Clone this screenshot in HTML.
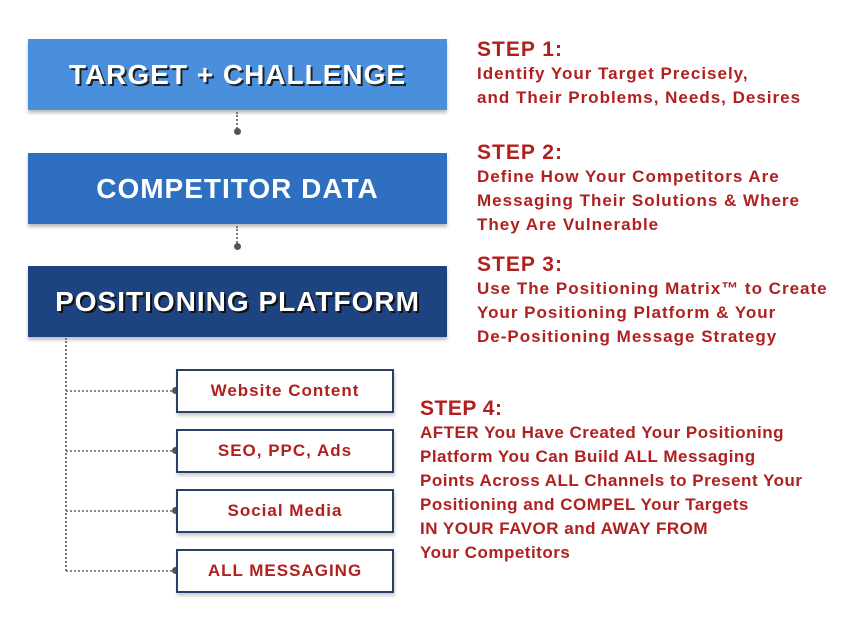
<!DOCTYPE html>
<html><head><style>
body{margin:0;width:850px;height:639px;background:#fff;position:relative;overflow:hidden;font-family:"Liberation Sans",sans-serif;}
.big{position:absolute;left:28px;width:419px;height:71px;color:#fff;font-weight:bold;font-size:28px;display:flex;align-items:center;justify-content:center;box-shadow:0 3px 3px rgba(0,0,0,.25);letter-spacing:1px}
.sm{position:absolute;left:176px;width:214px;height:40px;border:2px solid #2a3f66;box-sizing:content-box;color:#b0201f;font-weight:bold;font-size:17px;letter-spacing:1px;display:flex;align-items:center;justify-content:center;box-shadow:1px 3px 3px rgba(0,0,0,.2);background:#fff}
.t{position:absolute;color:#b0201f;font-weight:bold;font-size:17px;letter-spacing:1px;line-height:24px;white-space:nowrap}
.t b{font-size:21px;display:block;line-height:24px}
.vd{position:absolute;border-left:2px dotted #777;width:0}
.hd{position:absolute;border-top:2px dotted #888;height:0}
.dot{position:absolute;width:7px;height:7px;border-radius:50%;background:#555}
</style></head><body>
<div class="big" style="top:39px;background:#4a8fdc;text-shadow:2px 2px 0 #222">TARGET + CHALLENGE</div>
<div class="big" style="top:153px;background:#2e6fc0">COMPETITOR DATA</div>
<div class="big" style="top:266px;background:#1d4480;text-shadow:2px 2px 0 #111">POSITIONING PLATFORM</div>
<div class="vd" style="left:236px;top:112px;height:17px"></div><div class="dot" style="left:234px;top:128px"></div>
<div class="vd" style="left:236px;top:226px;height:17px"></div><div class="dot" style="left:234px;top:243px"></div>
<div class="vd" style="left:65px;top:338px;height:233px"></div>
<div class="hd" style="left:66px;top:390px;width:110px"></div><div class="dot" style="left:172px;top:387px"></div>
<div class="hd" style="left:66px;top:450px;width:110px"></div><div class="dot" style="left:172px;top:447px"></div>
<div class="hd" style="left:66px;top:510px;width:110px"></div><div class="dot" style="left:172px;top:507px"></div>
<div class="hd" style="left:66px;top:570px;width:110px"></div><div class="dot" style="left:172px;top:567px"></div>
<div class="sm" style="top:369px">Website Content</div>
<div class="sm" style="top:429px">SEO, PPC, Ads</div>
<div class="sm" style="top:489px">Social Media</div>
<div class="sm" style="top:549px">ALL MESSAGING</div>
<div class="t" style="left:477px;top:38px"><b>STEP 1:</b>Identify Your Target Precisely,<br>and Their Problems, Needs, Desires</div>
<div class="t" style="left:477px;top:141px"><b>STEP 2:</b>Define How Your Competitors Are<br>Messaging Their Solutions &amp; Where<br>They Are Vulnerable</div>
<div class="t" style="left:477px;top:253px"><b>STEP 3:</b>Use The Positioning Matrix™ to Create<br>Your Positioning Platform &amp; Your<br>De-Positioning Message Strategy</div>
<div class="t" style="left:420px;top:397px;letter-spacing:.5px"><b>STEP 4:</b>AFTER You Have Created Your Positioning<br>Platform You Can Build ALL Messaging<br>Points Across ALL Channels to Present Your<br>Positioning and COMPEL Your Targets<br>IN YOUR FAVOR and AWAY FROM<br>Your Competitors</div>
</body></html>
